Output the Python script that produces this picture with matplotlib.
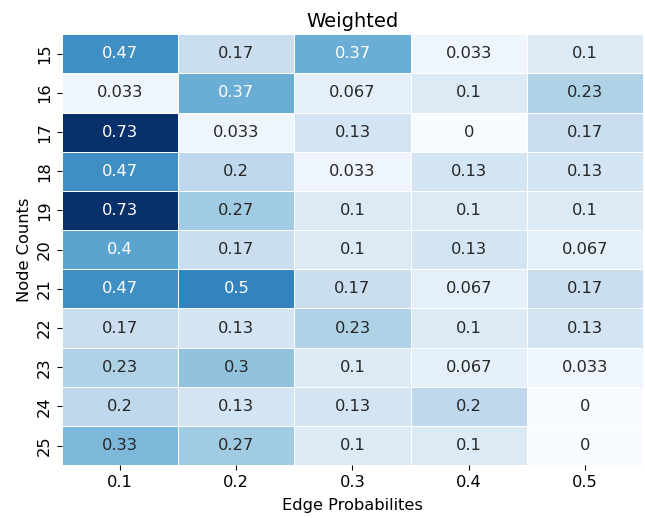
import matplotlib
matplotlib.use("Agg")
import matplotlib.pyplot as plt
import seaborn as sns
import pandas as pd

node_counts = [15, 16, 17, 18, 19, 20, 21, 22, 23, 24, 25]
edge_probs = [0.1, 0.2, 0.3, 0.4, 0.5]

p01 = [0.4667, 0.0333, 0.7333, 0.4667, 0.7333, 0.4, 0.4667, 0.1667, 0.2333, 0.2, 0.3333]
p02 = [0.1667, 0.3667, 0.0333, 0.2, 0.2667, 0.1667, 0.5, 0.1333, 0.3, 0.1333, 0.2667]
p03 = [0.3667, 0.0667, 0.1333, 0.0333, 0.1, 0.1, 0.1667, 0.2333, 0.1, 0.1333, 0.1]
p04 = [0.0333, 0.1, 0.0, 0.1333, 0.1, 0.1333, 0.0667, 0.1, 0.0667, 0.2, 0.1]
p05 = [0.1, 0.2333, 0.1667, 0.1333, 0.1, 0.0667, 0.1667, 0.1333, 0.0333, 0.0, 0.0]

df = pd.DataFrame(dict(zip(edge_probs, [p01, p02, p03, p04, p05])), index=node_counts)

fig, ax = plt.subplots(figsize=(6.45, 5.18), dpi=100)
sns.heatmap(df, annot=True, fmt=".2g", cmap="Blues", cbar=False,
            linewidths=0.5, linecolor="white", ax=ax,
            annot_kws={"fontsize": 11.7})
ax.set_title("Weighted", fontsize=14, pad=5)
ax.set_xlabel("Edge Probabilites", fontsize=11.7, labelpad=6)
ax.set_ylabel("Node Counts", fontsize=11.7)
ax.tick_params(labelsize=11.7)
fig.subplots_adjust(left=0.096, right=0.997, top=0.934, bottom=0.102)
fig.savefig("out.png")
